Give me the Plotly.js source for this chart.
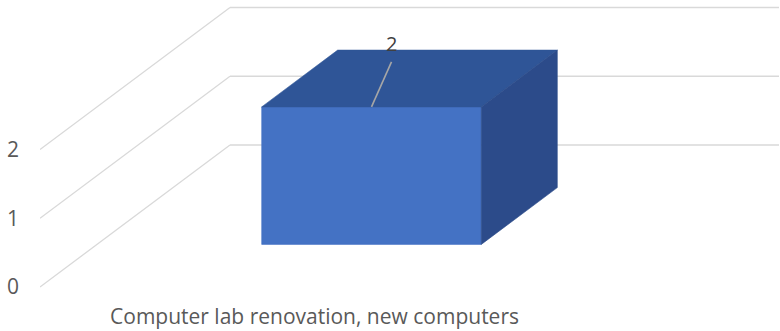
<!DOCTYPE html>
<html>
<head>
<meta charset="utf-8">
<script src="https://cdn.plot.ly/plotly-3.0.1.min.js"></script>
<style>
  html, body { margin: 0; padding: 0; background: #ffffff; }
  #chart { width: 780px; height: 331px; }
</style>
</head>
<body>
<div id="chart"></div>
<script>
// Chart data
const categories = ["Computer lab renovation, new computers"];
const values = [2];
const yTicks = [0, 1, 2];
const yTickLabels = ["0", "1", "2"];

// Oblique 3-D projection settings (axis units)
const W = 780, H = 331;
const M = { l: 40, r: 0, t: 0, b: 40 };
const pxPerCat = 549;          // front-plane width of one category
const pxPerUnit = 68.75;       // pixels per value unit
const zeroPx = 287;            // pixel row of value 0 on the front plane
const depthPx = [190, 142];    // front-to-back wall shift in pixels
const DX = depthPx[0] / pxPerCat;
const DY = depthPx[1] / pxPerUnit;
const barHalf = 0.2;           // gap width 150%
const depth0 = 0.3, depth1 = 0.7;

const xRange = [-0.5, -0.5 + (W - M.l - M.r) / pxPerCat];
const yRange = [-(H - M.b - zeroPx) / pxPerUnit, (zeroPx - M.t) / pxPerUnit];

function P(x, v, d) { return [x + d * DX, v + d * DY]; }

const gridColor = "#D9D9D9";
const font = "Open Sans, sans-serif";
const traces = [];

function poly(pts, color) {
  const xs = pts.map(p => p[0]), ys = pts.map(p => p[1]);
  xs.push(xs[0]); ys.push(ys[0]);
  traces.push({
    type: "scatter", mode: "lines", x: xs, y: ys,
    fill: "toself", fillcolor: color,
    line: { color: color, width: 0.6 },
    hoverinfo: "skip", showlegend: false, cliponaxis: false
  });
}

function seg(a, b, color, width) {
  traces.push({
    type: "scatter", mode: "lines",
    x: [a[0], b[0]], y: [a[1], b[1]],
    line: { color: color, width: width },
    hoverinfo: "skip", showlegend: false, cliponaxis: false
  });
}

// Floor / side wall gridlines and back wall gridlines
yTicks.forEach(v => {
  const f = P(-0.5, v, 0), b = P(-0.5, v, 1), e = P(0.5, v, 1);
  seg(f, b, gridColor, 1.3);
  seg(b, e, gridColor, 1.3);
});

// 3-D bars
const annotations = [];
categories.forEach((c, i) => {
  const v = values[i];
  const xl = i - barHalf, xr = i + barHalf;
  poly([P(xl, 0, depth0), P(xr, 0, depth0), P(xr, v, depth0), P(xl, v, depth0)], "#4472C4");
  poly([P(xl, v, depth0), P(xr, v, depth0), P(xr, v, depth1), P(xl, v, depth1)], "#2F5597");
  poly([P(xr, 0, depth0), P(xr, 0, depth1), P(xr, v, depth1), P(xr, v, depth0)], "#2C4B8A");

  // Data label with leader line
  const anchor = P(i, v, depth0);
  const lead = [anchor[0] + 20 / pxPerCat, anchor[1] + 45 / pxPerUnit];
  seg(anchor, lead, "#A6A6A6", 1.6);
  annotations.push({
    x: anchor[0] + 20 / pxPerCat, y: anchor[1] + 63 / pxPerUnit,
    xref: "x", yref: "y", text: String(v), showarrow: false,
    xanchor: "center", yanchor: "middle",
    font: { family: font, size: 20, color: "#404040" }
  });
});

const layout = {
  width: W, height: H,
  margin: M,
  paper_bgcolor: "#ffffff", plot_bgcolor: "#ffffff",
  showlegend: false,
  xaxis: {
    range: xRange, showgrid: false, zeroline: false, showline: false,
    tickvals: categories.map((c, i) => i), ticktext: categories,
    ticks: "", ticklabelstandoff: 11,
    tickfont: { family: font, size: 21, color: "#595959" },
    fixedrange: true
  },
  yaxis: {
    range: yRange, showgrid: false, zeroline: false, showline: false,
    tickvals: yTicks, ticktext: yTickLabels,
    ticks: "", ticklabelstandoff: 20,
    tickfont: { family: font, size: 21, color: "#595959" },
    fixedrange: true
  },
  annotations: annotations
};

Plotly.newPlot("chart", traces, layout, { displayModeBar: false, staticPlot: true });
</script>
</body>
</html>
